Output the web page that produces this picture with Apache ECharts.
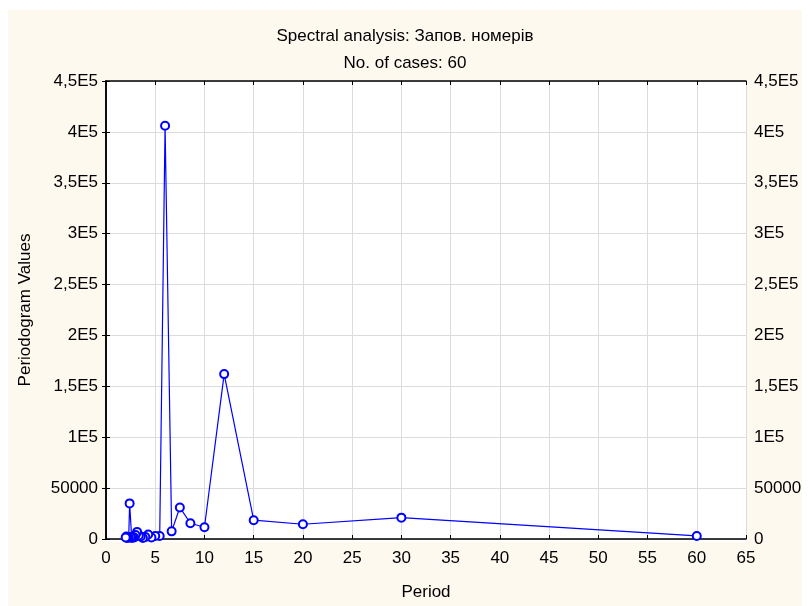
<!DOCTYPE html>
<html><head><meta charset="utf-8">
<script src="https://cdn.jsdelivr.net/npm/echarts@6/dist/echarts.min.js"></script>
<style>html,body{margin:0;padding:0;background:#fff;}#c{width:810px;height:606px;}</style>
</head><body><div id="c"></div>
<script>
// Periods (60/k, k=1..30) and periodogram values
const periods = [60, 30, 20, 15, 12, 10, 8.5714, 7.5, 6.6667, 6, 5.4545, 5, 4.6154, 4.2857, 4, 3.75, 3.5294, 3.3333, 3.1579, 3, 2.8571, 2.7273, 2.6087, 2.5, 2.4, 2.3077, 2.2222, 2.1429, 2.0690, 2.0];
const values = [3000, 21000, 14500, 18500, 162000, 11500, 15500, 31000, 7500, 406000, 3000, 3000, 1500, 4500, 2000, 1000, 2500, 3500, 7000, 4000, 1500, 2000, 1000, 2000, 35000, 1500, 2000, 1000, 2500, 1500];
const yTicks = [0, 50000, 100000, 150000, 200000, 250000, 300000, 350000, 400000, 450000];
const titleText = 'Spectral analysis: Запов. номерів';
const subtitleText = 'No. of cases: 60';

function yFmt(v){
  if (v === 0) return '0';
  if (v === 50000) return '50000';
  return String(v/100000).replace('.', ',') + 'E5';
}
const font = 'Liberation Sans, Arial, sans-serif';
const lbl = {color:'#000', fontSize:17, fontFamily:font};
const chart = echarts.init(document.getElementById('c'), null, {renderer:'canvas'});
const grid = {left:106, right:64, top:81, bottom:64, containLabel:false};
const yBase = {
  type:'value', min:0, max:450000, interval:50000,
  axisLine:{show:true, lineStyle:{color:'#000', width:1.5}},
  axisTick:{show:true, inside:false, length:4, lineStyle:{color:'#000'}},
  splitLine:{show:true, lineStyle:{color:'#dcdcdc', width:1}},
  axisLabel:Object.assign({formatter:yFmt, margin:8}, lbl)
};
chart.setOption({
  backgroundColor:'#ffffff',
  animation:false,
  graphic:[{type:'rect', z:-10, silent:true, shape:{x:8, y:10, width:794, height:596}, style:{fill:'#fdf9ef'}},
           {type:'rect', z:-9, silent:true, shape:{x:106, y:81, width:640, height:461}, style:{fill:'#ffffff'}}],
  title:[
    {text:titleText, left:'center', top:23, textStyle:{fontSize:17, fontWeight:'normal', color:'#000', fontFamily:font}},
    {text:subtitleText, left:'center', top:50, textStyle:{fontSize:17, fontWeight:'normal', color:'#000', fontFamily:font}}
  ],
  grid:grid,
  xAxis:[
    {type:'value', min:0, max:65, interval:5, position:'bottom',
     name:'Period', nameLocation:'middle', nameGap:45, nameTextStyle:lbl,
     axisLine:{show:true, onZero:false, lineStyle:{color:'#000', width:1.5}},
     axisTick:{show:true, inside:true, length:4, lineStyle:{color:'#000'}},
     splitLine:{show:true, lineStyle:{color:'#dcdcdc', width:1}},
     axisLabel:Object.assign({margin:11}, lbl)},
    {type:'value', min:0, max:65, interval:5, position:'top',
     axisLine:{show:true, onZero:false, lineStyle:{color:'#000', width:1.5}},
     axisTick:{show:true, inside:true, length:4, lineStyle:{color:'#000'}},
     splitLine:{show:false}, axisLabel:{show:false}}
  ],
  yAxis:[
    Object.assign({}, yBase, {position:'left', name:'Periodogram Values', nameLocation:'middle', nameGap:72, nameTextStyle:lbl}),
    Object.assign({}, yBase, {position:'right', splitLine:{show:false}})
  ],
  series:[{
    type:'line', xAxisIndex:0, yAxisIndex:0,
    data:periods.map((p,i)=>[p, values[i]]),
    symbol:'emptyCircle', symbolSize:8, showAllSymbol:true,
    lineStyle:{color:'#0000ff', width:1.2},
    itemStyle:{color:'#0000ff', borderColor:'#0000ff', borderWidth:1}
  }]
});
</script></body></html>
